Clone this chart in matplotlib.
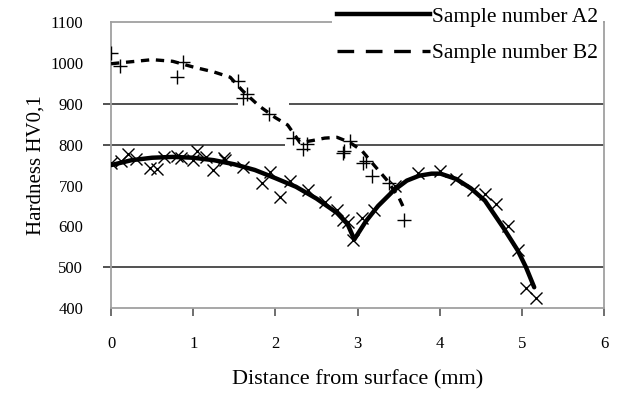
import matplotlib
matplotlib.use("Agg")
import matplotlib.pyplot as plt
from matplotlib.lines import Line2D

plt.rcParams['font.family'] = ['Liberation Serif', 'DejaVu Serif']

# Sample A2 - measured points (x markers)
a2_x = [0, 0.12, 0.21, 0.3, 0.48, 0.56, 0.65, 0.8, 0.85, 1.0, 1.05, 1.15, 1.24, 1.37, 1.39,
        1.6, 1.84, 1.94, 2.06, 2.18, 2.4, 2.6, 2.75, 2.82, 2.88, 2.95, 3.06, 3.2, 3.45,
        3.74, 4.0, 4.2, 4.4, 4.55, 4.68, 4.83, 4.95, 5.05, 5.17]
a2_y = [754, 760, 778, 765, 744, 741, 770, 773, 768, 762, 785, 770, 737, 768, 763,
        745, 705, 732, 671, 712, 690, 660, 640, 615, 610, 566, 620, 640, 700,
        730, 735, 715, 688, 680, 655, 602, 541, 449, 424]

# Sample A2 - fitted curve
a2_cx = [0, 0.25, 0.5, 0.75, 1.0, 1.25, 1.5, 1.75, 2.0, 2.25, 2.5, 2.75, 2.88, 2.96,
         3.1, 3.25, 3.44, 3.6, 3.75, 3.9, 4.01, 4.2, 4.38, 4.55, 4.77, 4.95, 5.05, 5.15]
a2_cy = [750, 762, 768, 770, 768, 762, 752, 738, 718, 697, 668, 633, 605, 568,
         612, 650, 688, 712, 724, 729, 729, 716, 693, 663, 598, 541, 500, 451]

# Sample B2 - measured points (+ markers)
b2_x = [0, 0.11, 0.8, 0.87, 1.54, 1.61, 1.66, 1.92, 2.21, 2.34, 2.39, 2.82, 2.83, 2.91,
        3.07, 3.1, 3.18, 3.38, 3.56]
b2_y = [1025, 993, 966, 1003, 956, 915, 924, 876, 817, 790, 802, 780, 785, 810,
        756, 761, 724, 707, 615]

# Sample B2 - fitted curve
b2_cx = [0, 0.25, 0.5, 0.75, 1.0, 1.25, 1.45, 1.6, 1.8, 2.0, 2.15, 2.3, 2.45, 2.6,
         2.75, 2.9, 3.05, 3.2, 3.35, 3.5, 3.56]
b2_cy = [998, 1003, 1008, 1004, 990, 978, 965, 932, 895, 866, 848, 805, 810, 816,
         818, 806, 786, 750, 715, 672, 646]

xticks = [0, 1, 2, 3, 4, 5, 6]
yticks = [400, 500, 600, 700, 800, 900, 1000, 1100]

fig = plt.figure(figsize=(6.17, 3.94), dpi=100)
ax = fig.add_axes([0.18, 0.218, 0.799, 0.726])

# horizontal grid pieces (the scan shows them broken where the data crosses)
ax.hlines(500, -0.1, 6, color='#333333', lw=1.2, clip_on=False, zorder=1)
ax.hlines(800, -0.1, 2.12, color='#333333', lw=1.2, clip_on=False, zorder=1)
ax.hlines(800, 2.95, 6, color='#333333', lw=1.2, zorder=1)
ax.hlines(900, -0.1, 1.55, color='#333333', lw=1.2, clip_on=False, zorder=1)
ax.hlines(900, 2.17, 6, color='#333333', lw=1.2, zorder=1)

ax.plot(a2_cx, a2_cy, color='black', lw=3.2, solid_capstyle='round', zorder=3)
ax.plot(a2_x, a2_y, ls='none', marker='x', ms=9, mew=1.0, color='black', zorder=3)
ax.plot(b2_cx, b2_cy, color='black', lw=2.4, ls=(0, (2.5, 2.0)), zorder=3)
ax.plot(b2_x, b2_y, ls='none', marker='+', ms=10, mew=1.0, color='black', zorder=3)

ax.set_xlim(0, 6)
ax.set_ylim(400, 1100)
ax.set_xticks(xticks)
ax.set_yticks(yticks)
ax.tick_params(axis='x', direction='out', length=6, width=1.2, color='#555555',
               pad=14, labelsize=12)
ax.tick_params(axis='y', length=0, pad=20, labelsize=12)
for s in ax.spines.values():
    s.set_color('#a0a0a0')
    s.set_linewidth(1.3)

ax.set_xlabel('Distance from surface (mm)', fontsize=16, labelpad=13)
ax.set_ylabel('Hardness HV0,1', fontsize=15, labelpad=3)

handles = [Line2D([], [], color='black', lw=3.2),
           Line2D([], [], color='black', lw=2.4, ls=(0, (5, 3.5)))]
leg = ax.legend(handles, ['Sample number A2', 'Sample number B2'],
                loc='upper right', bbox_to_anchor=(0.998, 1.072), fontsize=15.5,
                handlelength=4.3, handletextpad=0.1, labelspacing=0.75,
                borderpad=0.25, borderaxespad=0.0, frameon=True, fancybox=False)
leg.get_frame().set_facecolor('white')
leg.get_frame().set_edgecolor('none')
leg.get_frame().set_alpha(1.0)

fig.savefig('out.png', dpi=100)
